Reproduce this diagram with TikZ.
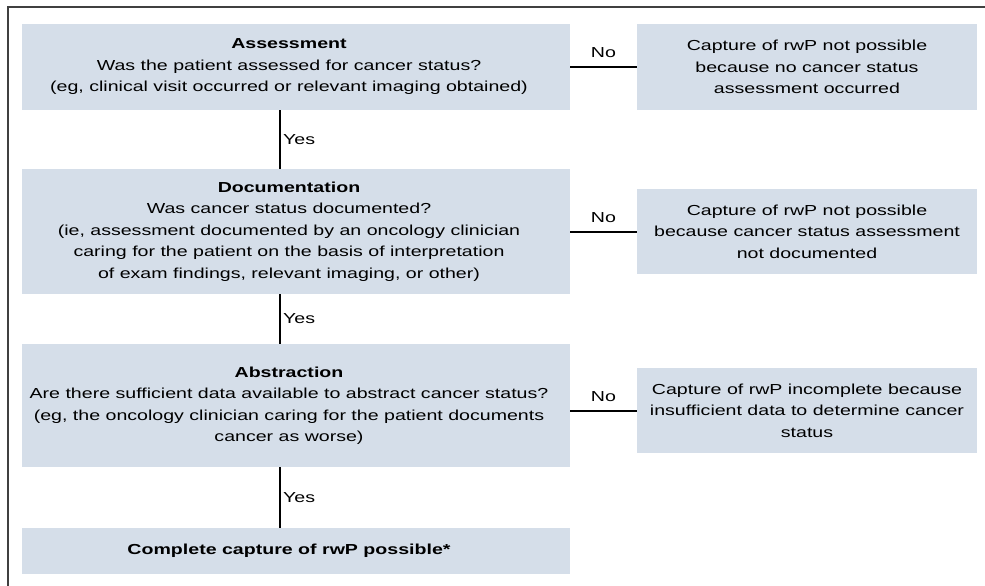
\documentclass[tikz,border=0pt]{standalone}
\usepackage{fontspec}
\setmainfont{Liberation Sans}[FakeStretch=1.35]
\definecolor{boxfill}{HTML}{D5DEE9}
\definecolor{framegray}{HTML}{404040}
\begin{document}
\begin{tikzpicture}[x=1pt,y=-1pt,
  box/.style={fill=boxfill,draw=none,inner sep=0pt},
  txt/.style={inner sep=0pt,align=center,font=\fontsize{14.5}{21.5}\selectfont},
  conn/.style={line width=2.2pt,black},
  lbl/.style={font=\fontsize{14.5}{16}\selectfont,inner sep=2pt}]
\useasboundingbox (0,0) rectangle (985,586);
\draw[framegray,line width=2pt] (8,587) -- (8,7) -- (986,7);
\node[box,minimum width=548pt,minimum height=86pt] (b1) at (296,67) {};
\node[txt,xshift=-7pt] (t1) at (b1.center)
  {\textbf{Assessment}\\Was the patient assessed for cancer status?\\(eg, clinical visit occurred or relevant imaging obtained)};
\node[box,minimum width=340pt,minimum height=86pt] (r1) at (807,67) {};
\node[txt] (s1) at (r1.center)
  {Capture of rwP not possible\\because no cancer status\\assessment occurred};
\node[box,minimum width=548pt,minimum height=125pt] (b2) at (296,231.5) {};
\node[txt,xshift=-7pt] (t2) at (b2.center)
  {\textbf{Documentation}\\Was cancer status documented?\\(ie, assessment documented by an oncology clinician\\caring for the patient on the basis of interpretation\\of exam findings, relevant imaging, or other)};
\node[box,minimum width=340pt,minimum height=85pt] (r2) at (807,231.5) {};
\node[txt] (s2) at (r2.center)
  {Capture of rwP not possible\\because cancer status assessment\\not documented};
\node[box,minimum width=548pt,minimum height=123pt] (b3) at (296,405.5) {};
\node[txt,xshift=-7pt] (t3) at (b3.center)
  {\textbf{Abstraction}\\Are there sufficient data available to abstract cancer status?\\(eg, the oncology clinician caring for the patient documents\\cancer as worse)};
\node[box,minimum width=340pt,minimum height=85pt] (r3) at (807,410.5) {};
\node[txt] (s3) at (r3.center)
  {Capture of rwP incomplete because\\insufficient data to determine cancer\\status};
\node[box,minimum width=548pt,minimum height=46pt] (b4) at (296,551) {};
\node[txt,xshift=-7pt] (t4) at (b4.center) {\textbf{Complete capture of rwP possible*}};
\coordinate (vx) at (280,0);
\draw[conn] (b1.south -| vx) -- node[lbl,right,midway] {Yes} (b2.north -| vx);
\draw[conn] (b2.south -| vx) -- node[lbl,right,midway] {Yes} (b3.north -| vx);
\draw[conn] (b3.south -| vx) -- node[lbl,right,midway] {Yes} (b4.north -| vx);
\draw[conn,line width=2pt] (b1.east) -- node[lbl,above,midway,yshift=6pt] {No} (r1.west);
\draw[conn,line width=2pt] (b2.east) -- node[lbl,above,midway,yshift=6pt] {No} (r2.west);
\draw[conn,line width=2pt] (b3.east |- r3.west) -- node[lbl,above,midway,yshift=6pt] {No} (r3.west);
\end{tikzpicture}
\end{document}
